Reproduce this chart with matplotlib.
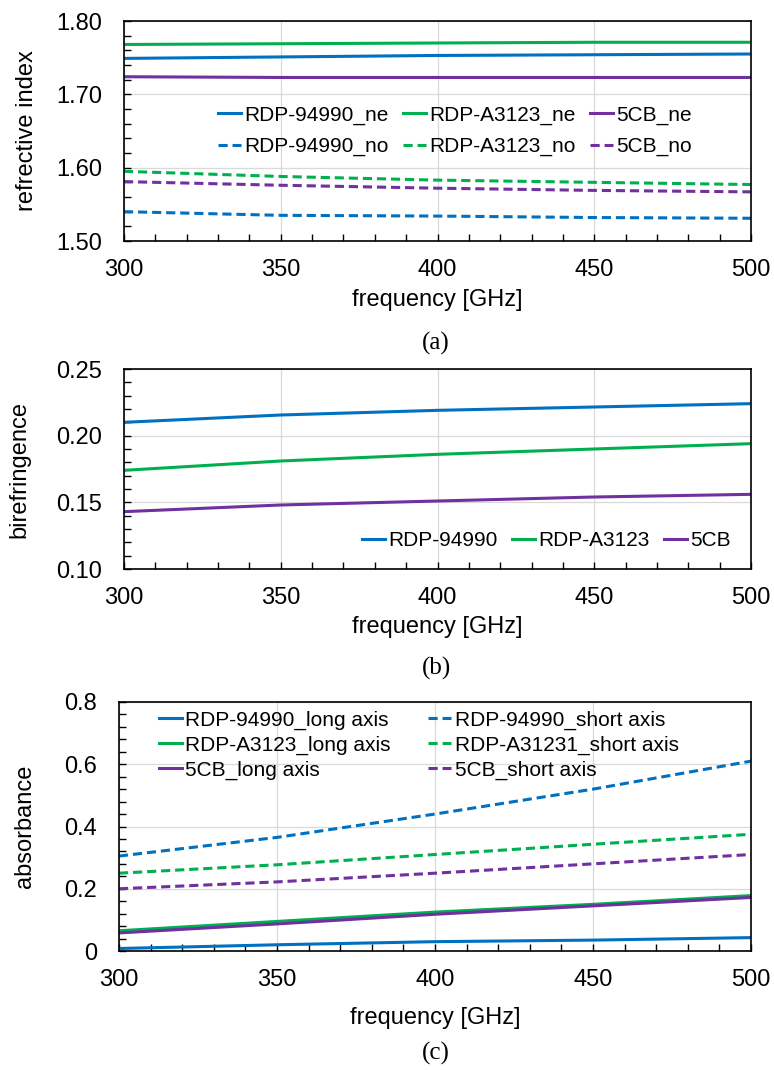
import matplotlib.pyplot as plt
from matplotlib.ticker import MultipleLocator

plt.rcParams['font.family'] = ['Liberation Sans', 'DejaVu Sans']

freq = [300, 350, 400, 450, 500]

# (a) refractive index
ne_94990 = [1.749, 1.751, 1.753, 1.754, 1.755]
ne_a3123 = [1.768, 1.769, 1.770, 1.771, 1.771]
ne_5cb = [1.724, 1.723, 1.723, 1.723, 1.723]
no_94990 = [1.540, 1.535, 1.534, 1.532, 1.531]
no_a3123 = [1.595, 1.588, 1.583, 1.580, 1.577]
no_5cb = [1.581, 1.576, 1.572, 1.569, 1.567]

# (b) birefringence
bi_94990 = [0.210, 0.2155, 0.219, 0.2215, 0.224]
bi_a3123 = [0.174, 0.181, 0.186, 0.190, 0.194]
bi_5cb = [0.143, 0.148, 0.151, 0.154, 0.156]

# (c) absorbance
long_94990 = [0.008, 0.020, 0.030, 0.035, 0.043]
long_a3123 = [0.065, 0.095, 0.125, 0.150, 0.178]
long_5cb = [0.058, 0.087, 0.118, 0.145, 0.172]
short_94990 = [0.305, 0.365, 0.440, 0.520, 0.610]
short_a3123 = [0.250, 0.277, 0.310, 0.343, 0.375]
short_5cb = [0.200, 0.222, 0.250, 0.280, 0.310]

blue = '#0070C0'
green = '#00B050'
purple = '#7030A0'
dash = (0, (3.0, 1.6))
fs = 17
lfs = 15
lw = 2.2

W, H = 774, 1070
fig = plt.figure(figsize=(W / 100, H / 100), dpi=100)


def add_ax(left, right, top, bottom):
    # pixel box -> figure fraction
    return fig.add_axes([left / W, 1 - bottom / H, (right - left) / W, (bottom - top) / H])


ax1 = add_ax(124, 751, 21, 241)
ax2 = add_ax(124, 751, 369, 569)
ax3 = add_ax(119, 751, 702, 951)


def style(ax, ymin, ymax, major, minor, fmt, ylab, ylab_x, xlab_dy):
    ax.set_xlim(300, 500)
    ax.set_ylim(ymin, ymax)
    ax.xaxis.set_major_locator(MultipleLocator(50))
    ax.xaxis.set_minor_locator(MultipleLocator(10))
    ax.yaxis.set_major_locator(MultipleLocator(major))
    ax.yaxis.set_minor_locator(MultipleLocator(minor))
    ax.yaxis.set_major_formatter(fmt)
    ax.tick_params(which='both', direction='in', top=False, right=False,
                   labelsize=fs, length=5, width=1)
    ax.tick_params(axis='x', which='major', pad=13)
    ax.tick_params(axis='y', which='major', pad=16)
    ax.grid(True, which='major', color='#d9d9d9', linewidth=0.9)
    ax.set_axisbelow(True)
    for s in ax.spines.values():
        s.set_linewidth(1.2)
    bb = ax.get_position()
    hpx = bb.height * H
    ax.set_xlabel('frequency [GHz]', fontsize=fs, va='center')
    ax.xaxis.set_label_coords(0.5, -xlab_dy / hpx)
    ax.set_ylabel(ylab, fontsize=fs, va='center')
    ax.yaxis.set_label_coords(ylab_x, 0.5)


ax1.plot(freq, ne_94990, color=blue, lw=lw, label='RDP-94990_ne')
ax1.plot(freq, no_94990, color=blue, lw=lw, ls=dash, label='RDP-94990_no')
ax1.plot(freq, ne_a3123, color=green, lw=lw, label='RDP-A3123_ne')
ax1.plot(freq, no_a3123, color=green, lw=lw, ls=dash, label='RDP-A3123_no')
ax1.plot(freq, ne_5cb, color=purple, lw=lw, label='5CB_ne')
ax1.plot(freq, no_5cb, color=purple, lw=lw, ls=dash, label='5CB_no')
style(ax1, 1.50, 1.80, 0.10, 0.02, '{x:.2f}', 'refrective index', -0.155, 59)
ax1.legend(ncol=3, loc='center left', bbox_to_anchor=(0.150, 0.500), frameon=False,
           fontsize=lfs, handlelength=1.1, handletextpad=0.15, borderpad=0,
           borderaxespad=0, columnspacing=0.7, labelspacing=0.6)

ax2.plot(freq, bi_94990, color=blue, lw=lw, label='RDP-94990')
ax2.plot(freq, bi_a3123, color=green, lw=lw, label='RDP-A3123')
ax2.plot(freq, bi_5cb, color=purple, lw=lw, label='5CB')
style(ax2, 0.10, 0.25, 0.05, 0.01, '{x:.2f}', 'birefringence', -0.166, 58)
ax2.legend(ncol=3, loc='center left', bbox_to_anchor=(0.380, 0.14), frameon=False,
           fontsize=lfs, handlelength=1.1, handletextpad=0.15, borderpad=0,
           borderaxespad=0, columnspacing=0.7)

ax3.plot(freq, long_94990, color=blue, lw=lw, label='RDP-94990_long axis')
ax3.plot(freq, long_a3123, color=green, lw=lw, label='RDP-A3123_long axis')
ax3.plot(freq, long_5cb, color=purple, lw=lw, label='5CB_long axis')
ax3.plot(freq, short_94990, color=blue, lw=lw, ls=dash, label='RDP-94990_short axis')
ax3.plot(freq, short_a3123, color=green, lw=lw, ls=dash, label='RDP-A31231_short axis')
ax3.plot(freq, short_5cb, color=purple, lw=lw, ls=dash, label='5CB_short axis')
style(ax3, 0, 0.8, 0.2, 0.04, lambda v, p: '0' if v == 0 else f'{v:.1f}',
      'absorbance', -0.149, 67)
ax3.legend(ncol=2, loc='center left', bbox_to_anchor=(0.064, 0.827), frameon=False,
           fontsize=lfs, handlelength=1.1, handletextpad=0.15, borderpad=0,
           borderaxespad=0, columnspacing=1.8, labelspacing=0.27)

for y, t in [(343, '(a)'), (668, '(b)'), (1053, '(c)')]:
    fig.text(436 / W, 1 - y / H, t, ha='center', va='center', fontsize=18,
             family='Liberation Serif')

fig.savefig('out.png', dpi=100)
